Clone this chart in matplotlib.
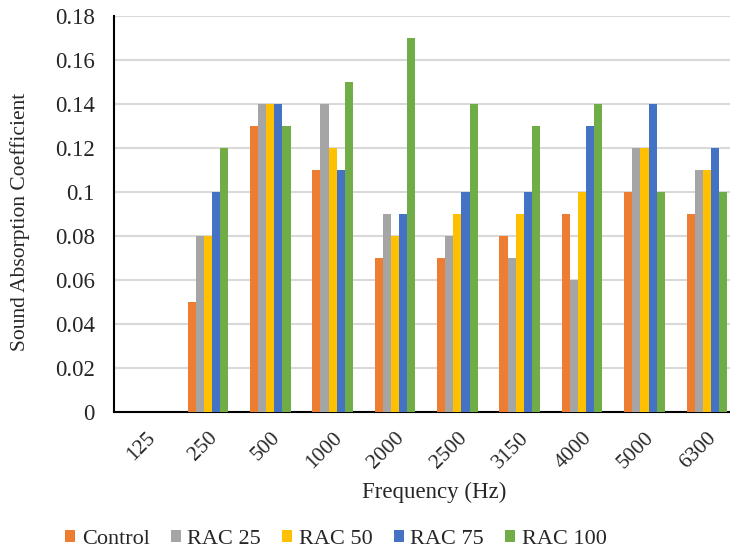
import matplotlib
matplotlib.use("Agg")
import matplotlib.pyplot as plt
import numpy as np

categories = ["125", "250", "500", "1000", "2000", "2500", "3150", "4000", "5000", "6300"]
control = [0.0, 0.05, 0.13, 0.11, 0.07, 0.07, 0.08, 0.09, 0.10, 0.09]
rac25 = [0.0, 0.08, 0.14, 0.14, 0.09, 0.08, 0.07, 0.06, 0.12, 0.11]
rac50 = [0.0, 0.08, 0.14, 0.12, 0.08, 0.09, 0.09, 0.10, 0.12, 0.11]
rac75 = [0.0, 0.10, 0.14, 0.11, 0.09, 0.10, 0.10, 0.13, 0.14, 0.12]
rac100 = [0.0, 0.12, 0.13, 0.15, 0.17, 0.14, 0.13, 0.14, 0.10, 0.10]
series_names = ["Control", "RAC 25", "RAC 50", "RAC 75", "RAC 100"]
colors = ["#ED7D31", "#A5A5A5", "#FFC000", "#4472C4", "#70AD47"]
yticks = [0, 0.02, 0.04, 0.06, 0.08, 0.1, 0.12, 0.14, 0.16, 0.18]
ytick_labels = ["0", "0.02", "0.04", "0.06", "0.08", "0.1", "0.12", "0.14", "0.16", "0.18"]

plt.rcParams['font.family'] = ['Liberation Serif', 'DejaVu Serif']

fig = plt.figure(figsize=(7.30, 5.51), dpi=100)
ax = fig.add_axes([114.4 / 730, 1 - 411.7 / 551, (738 - 114.4) / 730, (411.7 - 16) / 551])

x = np.arange(len(categories))
bw = 0.13
data = [control, rac25, rac50, rac75, rac100]
for i, (vals, name, c) in enumerate(zip(data, series_names, colors)):
    ax.bar(x + (i - 2) * bw, vals, width=bw, color=c, label=name, zorder=3, linewidth=0)

ax.set_xlim(-0.5, len(categories) - 0.5)
ax.set_ylim(0, 0.18)
ax.set_yticks(yticks)
ax.set_yticklabels(ytick_labels, fontsize=16.5, color='#262626')
ax.set_xticks(x)
ax.set_xticklabels(categories, fontsize=15.5, rotation=45, ha='right', va='top',
                   rotation_mode='anchor', color='#262626')
ax.tick_params(axis='both', length=0)
ax.tick_params(axis='y', pad=14)
ax.tick_params(axis='x', pad=12)
for lbl in ax.get_xticklabels():
    lbl.set_x(lbl.get_position()[0])

ax.grid(axis='y', color='#D9D9D9', linewidth=1.5, zorder=0)
ax.set_axisbelow(True)
for s in ['top', 'right']:
    ax.spines[s].set_visible(False)
ax.spines['left'].set_linewidth(1.5)
ax.spines['bottom'].set_linewidth(1.5)
ax.spines['left'].set_color('black')
ax.spines['bottom'].set_color('black')

fig.text(20 / 730, 1 - 222 / 551, "Sound Absorption Coefficient", fontsize=15.5,
         rotation=90, ha='center', va='center', color='#262626')
fig.text(434 / 730, 1 - 492 / 551, "Frequency (Hz)", fontsize=16.5, ha='center', va='center',
         color='#262626')

leg = fig.legend(loc='center', bbox_to_anchor=(336 / 730, 1 - 539 / 551), ncol=5, frameon=False,
                 fontsize=16, handlelength=0.45, handleheight=0.45, handletextpad=0.3,
                 columnspacing=0.95, labelcolor='#262626')

fig.savefig("out.png", dpi=100)
